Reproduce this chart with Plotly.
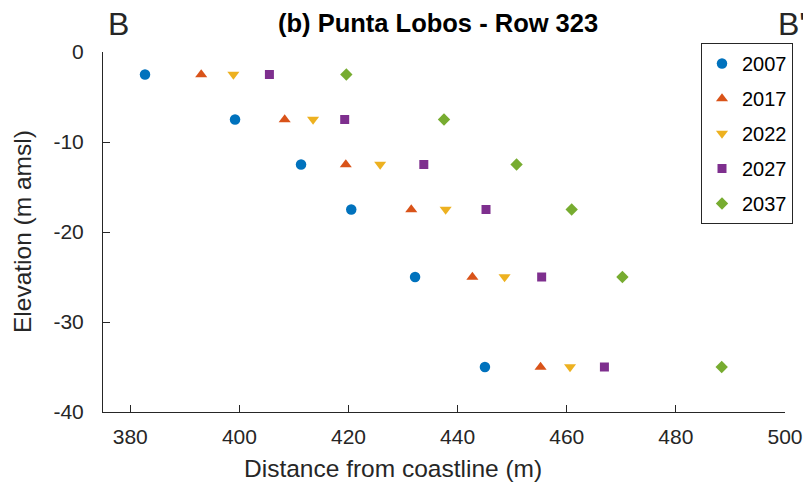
import plotly.graph_objects as go

elevation = [-2.5, -7.5, -12.5, -17.5, -25, -35]
years = ["2007", "2017", "2022", "2027", "2037"]
dist_2007 = [382.7, 399.2, 411.3, 420.5, 432.2, 445.0]
dist_2017 = [393.0, 408.3, 419.5, 431.5, 442.7, 455.2]
dist_2022 = [398.9, 413.5, 425.8, 437.8, 448.6, 460.6]
dist_2027 = [405.5, 419.3, 433.8, 445.2, 455.4, 466.9]
dist_2037 = [419.6, 437.5, 450.8, 460.9, 470.2, 488.4]

series = [dist_2007, dist_2017, dist_2022, dist_2027, dist_2037]
colors = ["#0072BD", "#D95319", "#EDB120", "#7E2F8E", "#77AC30"]
symbols = ["circle", "triangle-up", "triangle-down", "square", "diamond"]
sizes = [10.5, 10.5, 10.5, 9, 9.5]

FONT = "Liberation Sans, Arial, Helvetica, sans-serif"
W, H = 803, 491
ML, MR, MT, MB = 103, 18, 52, 79
PW, PH = W - ML - MR, H - MT - MB


def px(x):
    return (x - ML) / PW


def py(y):
    return (H - MB - y) / PH


fig = go.Figure()
for i, (yr, xs) in enumerate(zip(years, series)):
    fig.add_trace(go.Scatter(
        x=xs, y=elevation, mode="markers", name=yr, legendgroup=yr,
        marker=dict(color=colors[i], symbol=symbols[i], size=sizes[i],
                    line=dict(width=0)),
    ))

axis_common = dict(
    showgrid=False, zeroline=False, showline=True, linecolor="#262626",
    linewidth=1, ticks="inside", ticklen=7, tickcolor="#262626",
    tickfont=dict(family=FONT, size=21, color="#262626"), mirror=False,
)

fig.update_xaxes(range=[375, 500], tickvals=[380, 400, 420, 440, 460, 480, 500],
                 ticklabelstandoff=6, **axis_common)
fig.update_yaxes(range=[-40, 0], tickvals=[0, -10, -20, -30, -40],
                 ticktext=["0", "-10", "-20", "-30", "-40"],
                 ticklabelstandoff=14, **axis_common)

fig.update_layout(
    width=W, height=H,
    margin=dict(l=ML, r=MR, t=MT, b=MB, autoexpand=False),
    plot_bgcolor="white", paper_bgcolor="white",
    font=dict(family=FONT, color="#262626"),
    showlegend=True,
    legend=dict(x=px(701), y=py(43), xanchor="left", yanchor="top",
                bordercolor="#262626", borderwidth=1, bgcolor="white",
                font=dict(family=FONT, size=20, color="black"),
                tracegroupgap=6, itemwidth=30),
    annotations=[
        dict(text="<b>(b) Punta Lobos - Row 323</b>", x=px(438), y=py(23),
             xref="paper", yref="paper", showarrow=False, yanchor="middle",
             font=dict(family=FONT, size=25.5, color="black")),
        dict(text="B", x=px(106), y=py(24), xref="paper", yref="paper",
             showarrow=False, yanchor="middle",
             font=dict(family=FONT, size=32, color="#262626")),
        dict(text="B'", x=px(776), y=py(24), xref="paper", yref="paper",
             showarrow=False, xanchor="left", yanchor="middle",
             font=dict(family=FONT, size=32, color="#262626")),
        dict(text="Distance from coastline (m)", x=px(393), y=py(469),
             xref="paper", yref="paper", showarrow=False, yanchor="middle",
             font=dict(family=FONT, size=24.5, color="#262626")),
        dict(text="Elevation (m amsl)", x=px(22), y=py(232),
             xref="paper", yref="paper", showarrow=False, textangle=-90,
             xanchor="center", yanchor="middle",
             font=dict(family=FONT, size=24.5, color="#262626")),
    ],
)

fig.write_html("out.html")
